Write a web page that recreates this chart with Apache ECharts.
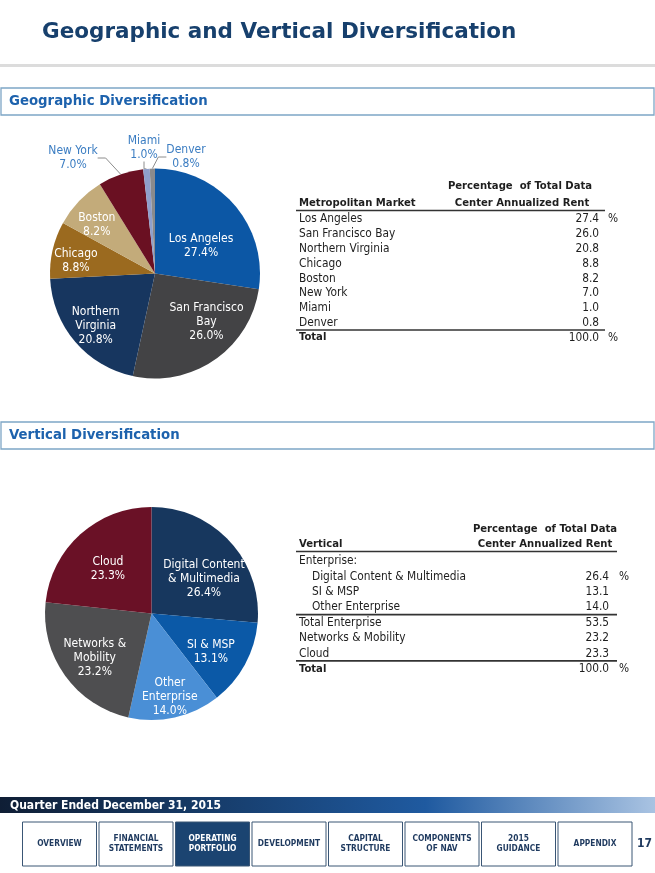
<!DOCTYPE html>
<html>
<head>
<meta charset="utf-8">
<title>Geographic and Vertical Diversification</title>
<script src="https://cdn.jsdelivr.net/npm/echarts@6/dist/echarts.min.js"></script>
<style>
  html, body { margin: 0; padding: 0; background: #fff; }
  #main { width: 655px; height: 873px; }
</style>
</head>
<body>
<div id="main"></div>
<script>
// data
const geoMarkets = ['Los Angeles', 'San Francisco Bay', 'Northern Virginia', 'Chicago', 'Boston', 'New York', 'Miami', 'Denver'];
const geoShares = [27.4, 26.0, 20.8, 8.8, 8.2, 7.0, 1.0, 0.8];
const geoTotal = 100.0;

const verticalNames = ['Digital Content & Multimedia', 'SI & MSP', 'Other Enterprise', 'Networks & Mobility', 'Cloud'];
const verticalShares = [26.4, 13.1, 14.0, 23.2, 23.3];
const totalEnterprise = 53.5;
const verticalTotal = 100.0;

const navItems = ['OVERVIEW', 'FINANCIAL\nSTATEMENTS', 'OPERATING\nPORTFOLIO', 'DEVELOPMENT', 'CAPITAL\nSTRUCTURE', 'COMPONENTS\nOF NAV', '2015\nGUIDANCE', 'APPENDIX'];
const activeNav = 2;
const pageNumber = '17';

// looks
const NAVY = '#17406d';
const BLUE_HEAD = '#1d62ad';
const FONT = '"DejaVu Sans Condensed", "DejaVu Sans", Verdana, sans-serif';
const WIDE_FONT = '"DejaVu Sans", Verdana, sans-serif';
const geoColors = ['#0c57a5', '#434345', '#17365f', '#9b6a1f', '#c3ab7a', '#6a1022', '#8f9fcb', '#8a8a8c'];
const verticalColors = ['#17375e', '#0b59a7', '#4a8fd6', '#4e4e50', '#6a1126'];

// pie label names with line breaks
const geoLabelNames = { 'San Francisco Bay': 'San Francisco\nBay', 'Northern Virginia': 'Northern\nVirginia' };
const verticalLabelNames = {
  'Digital Content & Multimedia': 'Digital Content\n& Multimedia',
  'Networks & Mobility': 'Networks &\nMobility',
  'Other Enterprise': 'Other\nEnterprise'
};

const geoCenter = [155, 273.5], geoRadius = 105;
const vertCenter = [151.5, 613.5], vertRadius = 106.5;

// nudges of inside labels from their default spot [dx, dy]
const geoNudge = [[4, 9], [20, 3], [-17, 16], [-25, 0], [-18, -10]];
// outside labels, offset from the pie centre
const geoOutside = { 5: [-82, -115.5], 6: [-11, -126], 7: [31, -116.5] };
const vertNudge = [[11, 3], [10, 11], [6, 28], [-11, 11.5], [-6, -3]];

const fmt = (v) => v.toFixed(1);

const chart = echarts.init(document.getElementById('main'));

function txt(text, x, y, opts) {
  opts = opts || {};
  return {
    type: 'text',
    silent: true,
    style: {
      text: text,
      x: x,
      y: y,
      font: (opts.bold ? 'bold ' : '') + (opts.size || 11.8) + 'px ' + (opts.font || FONT),
      fill: opts.color || '#1e1e1e',
      textAlign: opts.align || 'left',
      textVerticalAlign: 'middle'
    }
  };
}

function hline(x1, x2, y, w, color) {
  return {
    type: 'line',
    silent: true,
    shape: { x1: x1, y1: y, x2: x2, y2: y },
    style: { stroke: color || '#333', lineWidth: w || 1.2 }
  };
}

function sectionBox(label, y) {
  return [
    {
      type: 'rect',
      silent: true,
      shape: { x: 1, y: y, width: 653, height: 27 },
      style: { fill: '#fff', stroke: '#7ea6c6', lineWidth: 1.3 }
    },
    txt(label, 9, y + 14, { bold: true, size: 13.3, color: BLUE_HEAD, font: WIDE_FONT })
  ];
}

const HEAD = 11.2;
const els = [];

// title
els.push(txt('Geographic and Vertical Diversification', 42, 32, { bold: true, size: 21.5, color: NAVY, font: WIDE_FONT }));
els.push(hline(0, 655, 65.5, 3, '#dcdcdc'));

// geographic section
els.push(...sectionBox('Geographic Diversification', 88));
els.push(txt('Percentage  of Total Data', 520, 186, { bold: true, align: 'center', size: HEAD }));
els.push(txt('Center Annualized Rent', 522, 203, { bold: true, align: 'center', size: HEAD }));
els.push(txt('Metropolitan Market', 299, 203, { bold: true, size: HEAD }));
els.push(hline(296, 605, 210.5, 1.6));
const geoRowY0 = 219, geoRowStep = 14.86;
geoMarkets.forEach((m, i) => {
  const y = geoRowY0 + i * geoRowStep;
  els.push(txt(m, 299, y));
  els.push(txt(fmt(geoShares[i]), 599, y, { align: 'right' }));
  if (i === 0) els.push(txt('%', 608, y));
});
els.push(hline(296, 605, 330, 1.6));
els.push(txt('Total', 299, 337.5, { bold: true, size: HEAD }));
els.push(txt(fmt(geoTotal), 599, 337.5, { align: 'right' }));
els.push(txt('%', 608, 337.5));

// vertical section
els.push(...sectionBox('Vertical Diversification', 422));
els.push(txt('Percentage  of Total Data', 545, 529, { bold: true, align: 'center', size: HEAD }));
els.push(txt('Center Annualized Rent', 545, 544, { bold: true, align: 'center', size: HEAD }));
els.push(txt('Vertical', 299, 544, { bold: true, size: HEAD }));
els.push(hline(296, 617, 551.5, 1.6));
const vRows = [
  { name: 'Enterprise:', indent: 0 },
  { name: verticalNames[0], val: verticalShares[0], indent: 1, pct: true },
  { name: verticalNames[1], val: verticalShares[1], indent: 1 },
  { name: verticalNames[2], val: verticalShares[2], indent: 1, lineBelow: true },
  { name: 'Total Enterprise', val: totalEnterprise, indent: 0 },
  { name: verticalNames[3], val: verticalShares[3], indent: 0 },
  { name: verticalNames[4], val: verticalShares[4], indent: 0, lineBelow: true },
  { name: 'Total', val: verticalTotal, indent: 0, bold: true, pct: true }
];
const vRowY0 = 561, vRowStep = 15.43;
vRows.forEach((r, i) => {
  const y = vRowY0 + i * vRowStep;
  els.push(txt(r.name, 299 + r.indent * 13, y, r.bold ? { bold: true, size: HEAD } : {}));
  if (r.val != null) els.push(txt(fmt(r.val), 609, y, { align: 'right' }));
  if (r.pct) els.push(txt('%', 619, y));
  if (r.lineBelow) els.push(hline(296, 617, y + 7.3, 1.6));
});

// footer band
els.push({
  type: 'rect',
  silent: true,
  shape: { x: 0, y: 797, width: 655, height: 16 },
  style: {
    fill: new echarts.graphic.LinearGradient(0, 0, 1, 0, [
      { offset: 0, color: '#0f1e35' },
      { offset: 0.3, color: '#163a66' },
      { offset: 0.65, color: '#1f5aa0' },
      { offset: 1, color: '#a9c3e2' }
    ])
  }
});
els.push(txt('Quarter Ended December 31, 2015', 10, 805.5, { bold: true, size: 12, color: '#fff' }));

// nav boxes
const navX0 = 22.5, navStep = 76.5, navW = 74, navY = 822, navH = 44;
navItems.forEach((item, i) => {
  const x = navX0 + i * navStep;
  const on = i === activeNav;
  els.push({
    type: 'rect',
    silent: true,
    shape: { x: x, y: navY, width: navW, height: navH },
    style: { fill: on ? '#1b4471' : '#fff', stroke: '#3a5675', lineWidth: 1 }
  });
  els.push({
    type: 'text',
    silent: true,
    style: {
      text: item,
      x: x + navW / 2,
      y: navY + navH / 2,
      font: 'bold 8.3px ' + FONT,
      fill: on ? '#fff' : '#1f3a5f',
      textAlign: 'center',
      textVerticalAlign: 'middle',
      lineHeight: 10
    }
  });
});
els.push(txt(pageNumber, 637, 844, { bold: true, size: 12, color: '#1f3a5f' }));

function insideLayout(nudge) {
  return function (params) {
    const n = nudge[params.dataIndex];
    if (!n) return {};
    const r = params.labelRect;
    return {
      x: r.x + r.width / 2 + n[0],
      y: r.y + r.height / 2 + n[1],
      align: 'center',
      verticalAlign: 'middle'
    };
  };
}

const geoData = geoMarkets.map((m, i) => {
  const d = { name: m, value: geoShares[i], itemStyle: { color: geoColors[i] } };
  if (geoOutside[i]) {
    d.label = { position: 'outside', color: '#3b7dc2' };
    d.labelLine = { show: true, length: 6, length2: 8, lineStyle: { color: '#8c8c8c', width: 1 } };
  } else {
    d.labelLine = { show: false };
  }
  return d;
});

const vertData = verticalNames.map((m, i) => ({
  name: m, value: verticalShares[i], itemStyle: { color: verticalColors[i] }
}));

const pieItemStyle = { borderWidth: 0, borderColor: 'transparent' };

chart.setOption({
  animation: false,
  graphic: { elements: els },
  series: [
    {
      type: 'pie',
      center: geoCenter,
      radius: geoRadius,
      startAngle: 90,
      clockwise: true,
      avoidLabelOverlap: false,
      itemStyle: pieItemStyle,
      label: {
        position: 'inside',
        color: '#fff',
        fontFamily: FONT,
        fontSize: 12,
        lineHeight: 14,
        formatter: (p) => (geoLabelNames[p.name] || p.name) + '\n' + fmt(p.value) + '%'
      },
      labelLayout: function (params) {
        const off = geoOutside[params.dataIndex];
        if (off) {
          return {
            x: geoCenter[0] + off[0],
            y: geoCenter[1] + off[1],
            align: 'center',
            verticalAlign: 'middle'
          };
        }
        return insideLayout(geoNudge)(params);
      },
      emphasis: { disabled: true },
      data: geoData
    },
    {
      type: 'pie',
      center: vertCenter,
      radius: vertRadius,
      startAngle: 90,
      clockwise: true,
      avoidLabelOverlap: false,
      itemStyle: pieItemStyle,
      label: {
        position: 'inside',
        color: '#fff',
        fontFamily: FONT,
        fontSize: 12,
        lineHeight: 14,
        formatter: (p) => (verticalLabelNames[p.name] || p.name) + '\n' + fmt(p.value) + '%'
      },
      labelLine: { show: false },
      labelLayout: insideLayout(vertNudge),
      emphasis: { disabled: true },
      data: vertData
    }
  ]
});
</script>
</body>
</html>
